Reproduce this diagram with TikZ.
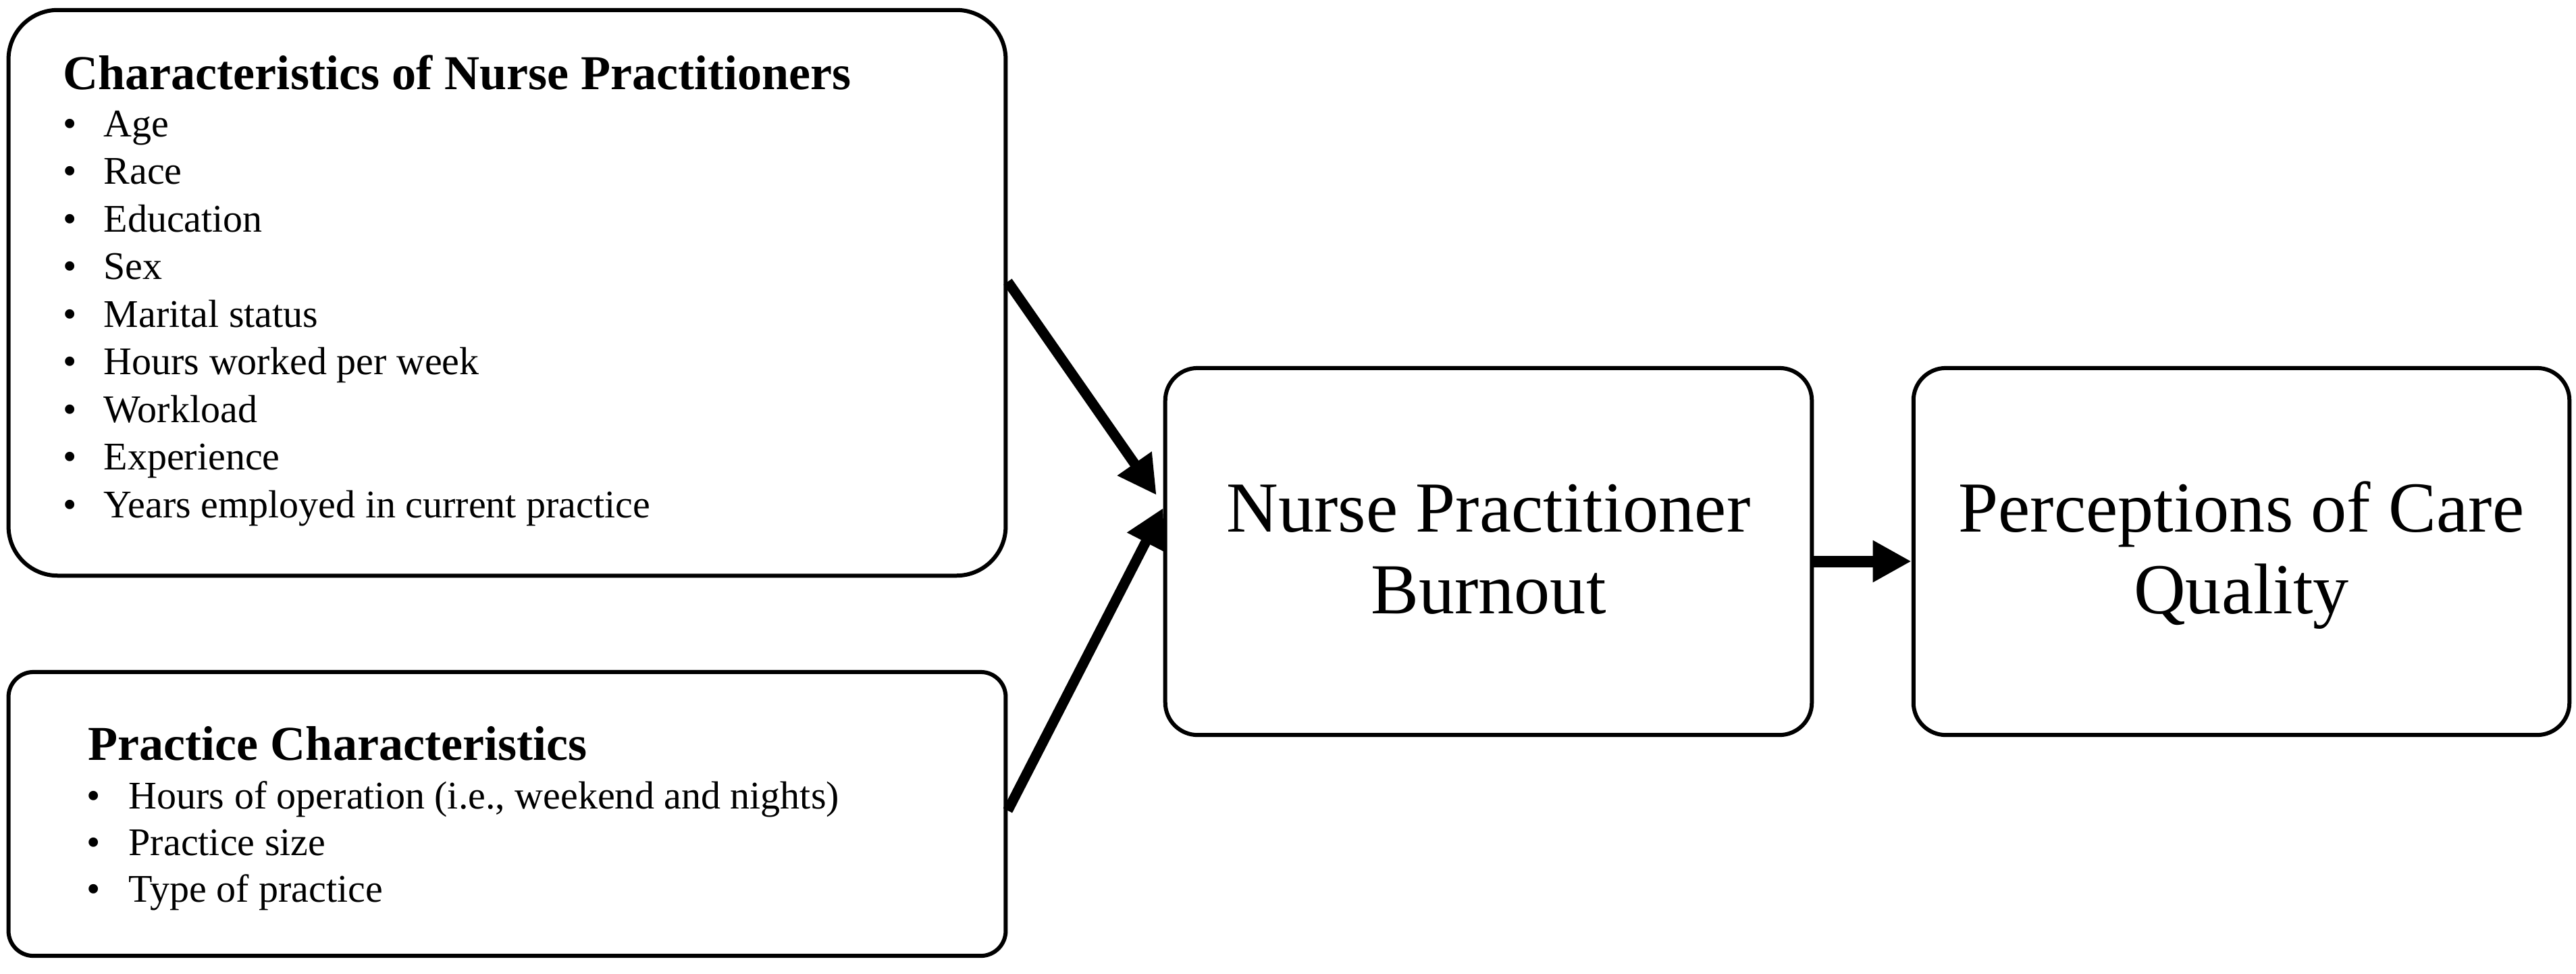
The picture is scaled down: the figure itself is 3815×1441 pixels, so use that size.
\documentclass[tikz,border=0pt]{standalone}
\usepackage{fontspec}
\setmainfont{Liberation Serif}
\usetikzlibrary{arrows.meta,calc}
\begin{document}
\begin{tikzpicture}[x=0.01cm,y=-0.01cm,
  box/.style={draw=black,line width=0.06cm,fill=white,inner sep=0pt},
  ttl/.style={anchor=base west,inner sep=0pt,font=\fontsize{20.5pt}{24pt}\selectfont\bfseries},
  itm/.style={anchor=base west,inner sep=0pt,font=\fontsize{16.5pt}{20pt}\selectfont},
  big/.style={anchor=base,inner sep=0pt,font=\fontsize{30.2pt}{34.4pt}\selectfont},
  conn/.style={line width=0.15cm,-{Triangle[length=0.57cm,width=0.58cm]}}
]
\useasboundingbox[fill=white] (0,0) rectangle (3815,1441);

% boxes
\node[box,minimum width=14.76cm,minimum height=8.37cm,rounded corners=0.73cm] (b1) at (751,433.5) {};
\node[box,minimum width=14.76cm,minimum height=4.20cm,rounded corners=0.37cm] (b2) at (751,1205) {};
\node[box,minimum width=9.57cm,minimum height=5.43cm,rounded corners=0.48cm] (b3) at (2204.5,816.5) {};
\node[box,minimum width=9.71cm,minimum height=5.43cm,rounded corners=0.48cm] (b4) at (3319.5,816.5) {};

% box 1 text
\node[ttl] (t1) at (93,132) {Characteristics of Nurse Practitioners};
\foreach \t [count=\i] in {Age,Race,Education,Sex,Marital status,Hours worked per week,Workload,Experience,Years employed in current practice}
  \node[itm] (c\i) at (93,{202+70.5*(\i-1)}) {\makebox[0.6cm][l]{\textbullet}\t};

% box 2 text
\node[ttl] (t2) at (130,1125) {Practice Characteristics};
\foreach \t [count=\i] in {{Hours of operation (i.e., weekend and nights)},Practice size,Type of practice}
  \node[itm] (p\i) at (128,{1197+69*(\i-1)}) {\makebox[0.62cm][l]{\textbullet}\t};

% box 3 and 4 text
\node[big] (n3a) at (2204.5,787) {Nurse Practitioner};
\node[big] (n3b) at (2204.5,908) {Burnout};
\node[big] (n4a) at (3319.5,787) {Perceptions of Care};
\node[big] (n4b) at (3319.5,908) {Quality};

% connectors
\coordinate (s1) at (b1.east |- 0,417);
\coordinate (e1) at ($(b3.west |- 0,733)+(-10,0)$);
\coordinate (s2) at (b2.east |- 0,1200);
\coordinate (e2) at (b3.west |- 0,752);
\coordinate (s3) at (b3.east |- 0,831);
\coordinate (e3) at (b4.west |- 0,831);
\draw[conn] (s1) -- (e1);
\draw[conn] (s2) -- (e2);
\draw[conn,line width=0.17cm] (s3) -- (e3);
\end{tikzpicture}
\end{document}
